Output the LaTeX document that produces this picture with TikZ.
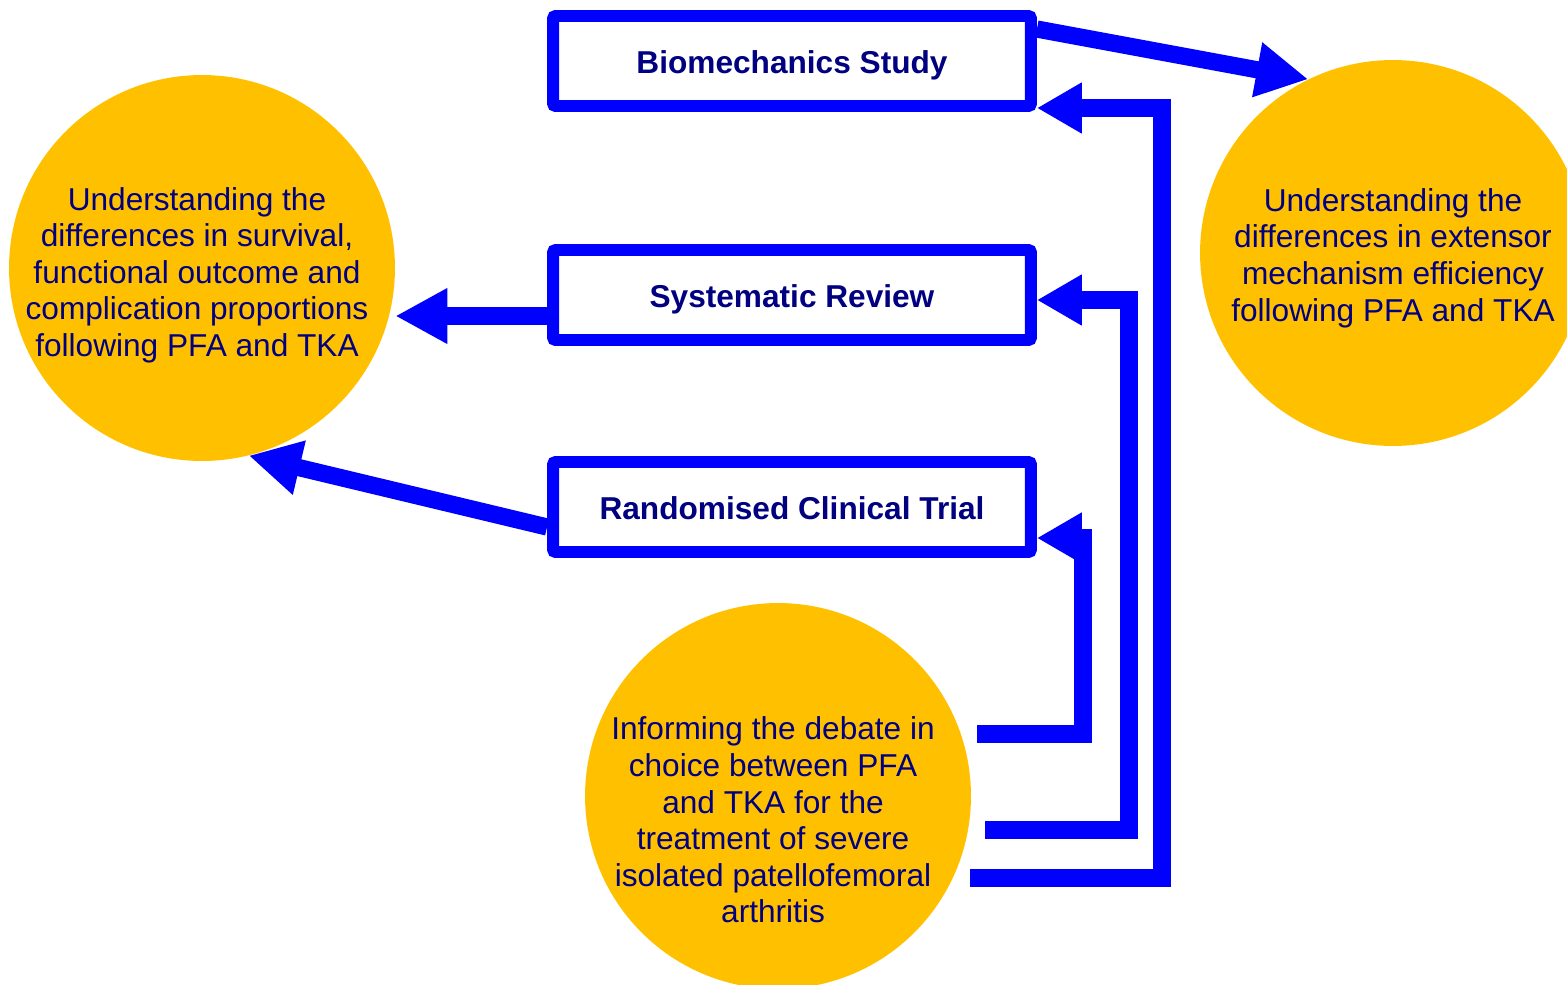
\documentclass[tikz,border=0pt]{standalone}
\usepackage{fontspec}
\setmainfont{Liberation Sans}
\usetikzlibrary{arrows.meta}
\definecolor{flowblue}{RGB}{0,0,255}
\definecolor{textnavy}{RGB}{0,0,128}
\definecolor{discgold}{RGB}{255,192,0}
\begin{document}
\begin{tikzpicture}
    [%%%%%%%%%%%%%%%%%%%%%%%%%%%%%%
        x=0.02cm, y=-0.02cm,
        box/.style={rectangle,draw=flowblue,line width=6.8pt,fill=white,minimum width=9.56cm,minimum height=1.8cm,rounded corners=1.5pt,text=textnavy,text height=18pt,text depth=4pt,font=\fontsize{18}{21}\selectfont\bfseries},
        disc/.style={circle,fill=discgold,minimum size=7.72cm,inner sep=0pt},
        disctext/.style={text=textnavy,align=center,font=\fontsize{18}{20.8}\selectfont},
        arr/.style={draw=flowblue,line width=9.8pt,-{Triangle[length=1.04cm,width=1.04cm]}},
        elbow/.style={draw=flowblue,line width=10.2pt,-{Triangle[length=0.9cm,width=0.96cm]}},
    ]%%%%%%%%%%%%%%%%%%%%%%%%%%%%%%
\useasboundingbox (0,0) rectangle (1567,984);
\node[box] (bio) at (792,61) {Biomechanics Study};
\node[box] (sr) at (792,295) {Systematic Review};
\node[box] (rct) at (792,507) {Randomised Clinical Trial};
\node[disc] (lc) at (202,268) {};
\node[disc] (rc) at (1393,253) {};
\node[disc] (dc) at (778,796) {};
\node[disctext] (lct) at ([shift={(-5,7)}]lc.center) {Understanding the\\differences in survival,\\functional outcome and\\complication proportions\\following PFA and TKA};
\node[disctext] (rct2) at ([shift={(0,5)}]rc.center) {Understanding the\\differences in extensor\\mechanism efficiency\\following PFA and TKA};
\node[disctext] (dct) at ([shift={(-5,24)}]dc.center) {Informing the debate in\\choice between PFA\\and TKA for the\\treatment of severe\\isolated patellofemoral\\arthritis};
\draw[arr] ([yshift=-0.38cm]bio.north east) -- (rc.116);
\draw[arr] ([yshift=-0.42cm]sr.west) -- ([yshift=-0.42cm]sr.west -| lc.east);
\draw[arr] ([yshift=-0.4cm]rct.west) -- (lc.284);
\draw[elbow] ([shift={(6,-62)}]dc.east) -| ([xshift=0.92cm,yshift=-0.62cm]rct.east) -- ([yshift=-0.62cm]rct.east);
\draw[elbow] ([shift={(14,34)}]dc.east) -| ([xshift=1.84cm,yshift=-0.1cm]sr.east) -- ([yshift=-0.1cm]sr.east);
\draw[elbow] ([shift={(-1,82)}]dc.east) -| ([xshift=2.5cm,yshift=-0.94cm]bio.east) -- ([yshift=-0.94cm]bio.east);
\end{tikzpicture}
\end{document}
